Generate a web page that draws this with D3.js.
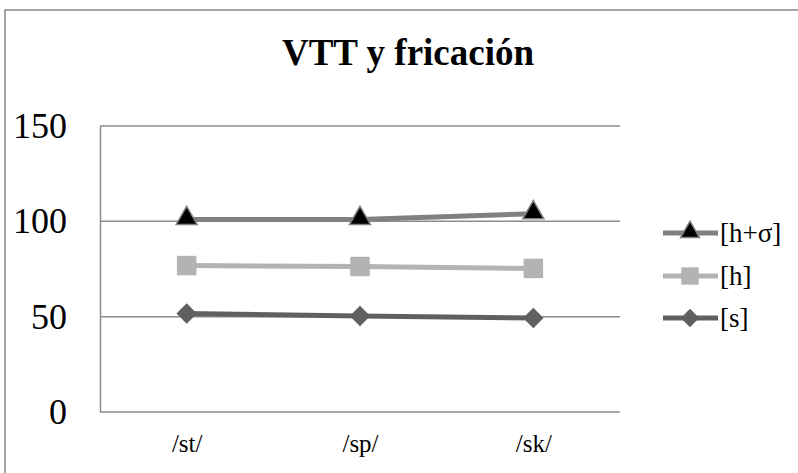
<!DOCTYPE html>
<html>
<head>
<meta charset="utf-8">
<script src="https://cdn.jsdelivr.net/npm/d3@7"></script>
<style>
  html, body { margin: 0; padding: 0; background: #fff; }
</style>
</head>
<body>
<svg id="chart" width="798" height="473"></svg>
<script>
// Categories (consonant clusters) and series values
const categories = ["/st/", "/sp/", "/sk/"];
const seriesNames = ["[h+σ]", "[h]", "[s]"];
const valuesHSigma = [101, 101, 104];
const valuesH = [76.8, 76.3, 75.3];
const valuesS = [51.6, 50.4, 49.3];
const yTicks = [0, 50, 100, 150];

const SERIF = "Liberation Serif";

const series = [
  { name: seriesNames[0], values: valuesHSigma, line: "#808080", fill: "#000000", stroke: "#808080", shape: "triangle" },
  { name: seriesNames[1], values: valuesH, line: "#b3b3b3", fill: "#b3b3b3", stroke: "#b3b3b3", shape: "square" },
  { name: seriesNames[2], values: valuesS, line: "#606060", fill: "#606060", stroke: "#606060", shape: "diamond" }
];

const svg = d3.select("#chart");

// Outer chart frame
svg.append("rect")
  .attr("x", 5).attr("y", 10)
  .attr("width", 820).attr("height", 480)
  .attr("fill", "#fff")
  .attr("stroke", "#888").attr("stroke-width", 1.5);

const plot = { left: 100, right: 620, top: 126, bottom: 412 };

const x = d3.scalePoint().domain(categories).range([plot.left, plot.right]).padding(0.5);
const y = d3.scaleLinear().domain([0, 150]).range([plot.bottom, plot.top]);

// Title
svg.append("text")
  .attr("x", 408).attr("y", 65)
  .attr("text-anchor", "middle")
  .attr("font-family", SERIF)
  .attr("font-size", 37).attr("font-weight", "bold")
  .attr("fill", "#000")
  .text("VTT y fricación");

// Horizontal gridlines
svg.append("g").selectAll("line")
  .data(yTicks.filter(t => t > 0))
  .join("line")
  .attr("x1", plot.left).attr("x2", plot.right)
  .attr("y1", d => y(d)).attr("y2", d => y(d))
  .attr("stroke", "#8c8c8c").attr("stroke-width", 1.5);

// Y axis
const yAxis = svg.append("g")
  .attr("transform", `translate(${plot.left},0)`)
  .call(d3.axisLeft(y).tickValues(yTicks).tickSize(0).tickPadding(33));
yAxis.attr("font-family", SERIF);
yAxis.select(".domain").attr("stroke", "#8c8c8c").attr("stroke-width", 1.5);
yAxis.selectAll("text")
  .attr("font-size", 36).attr("fill", "#000")
  .attr("font-family", SERIF);

// X axis (baseline)
const xAxis = svg.append("g")
  .attr("transform", `translate(0,${plot.bottom})`)
  .call(d3.axisBottom(x).tickSize(0).tickPadding(22));
xAxis.attr("font-family", SERIF);
xAxis.select(".domain").attr("stroke", "#8c8c8c").attr("stroke-width", 1.5)
  .attr("d", `M${plot.left},0H${plot.right}`);
xAxis.selectAll("text")
  .attr("font-size", 25).attr("fill", "#000")
  .attr("font-family", SERIF);

function markerPath(shape, scale) {
  if (shape === "triangle") return d3.symbol(d3.symbolTriangle, 190 * scale)();
  if (shape === "square") return d3.symbol(d3.symbolSquare, 380 * scale)();
  return d3.symbol(d3.symbolSquare, 210 * scale)();
}

const lineGen = d3.line().x((d, i) => x(categories[i])).y(d => y(d));

series.forEach(s => {
  const g = svg.append("g");
  g.append("path")
    .datum(s.values)
    .attr("d", lineGen)
    .attr("fill", "none")
    .attr("stroke", s.line).attr("stroke-width", 5)
    .attr("stroke-linejoin", "round");
  g.selectAll("path.marker")
    .data(s.values)
    .join("path")
    .attr("class", "marker")
    .attr("d", markerPath(s.shape, 1))
    .attr("transform", (d, i) => `translate(${x(categories[i])},${y(d) + (s.shape === "triangle" ? -1 : 0)})` + (s.shape === "diamond" ? " rotate(45)" : ""))
    .attr("fill", s.fill)
    .attr("stroke", s.stroke).attr("stroke-width", s.shape === "triangle" ? 1.5 : 0);
});

// Legend
const legendY = [233, 276, 318];
series.forEach((s, i) => {
  const g = svg.append("g").attr("transform", `translate(0,${legendY[i]})`);
  g.append("line")
    .attr("x1", 663).attr("x2", 718)
    .attr("y1", 0).attr("y2", 0)
    .attr("stroke", s.line).attr("stroke-width", 5);
  g.append("path")
    .attr("d", markerPath(s.shape, 0.8))
    .attr("transform", `translate(690,${s.shape === "triangle" ? -1 : 0})` + (s.shape === "diamond" ? " rotate(45)" : ""))
    .attr("fill", s.fill)
    .attr("stroke", s.stroke).attr("stroke-width", s.shape === "triangle" ? 1.5 : 0);
  g.append("text")
    .attr("x", 720).attr("y", 9)
    .attr("font-family", SERIF)
    .attr("font-size", 27).attr("fill", "#000")
    .text(s.name);
});
</script>
</body>
</html>
